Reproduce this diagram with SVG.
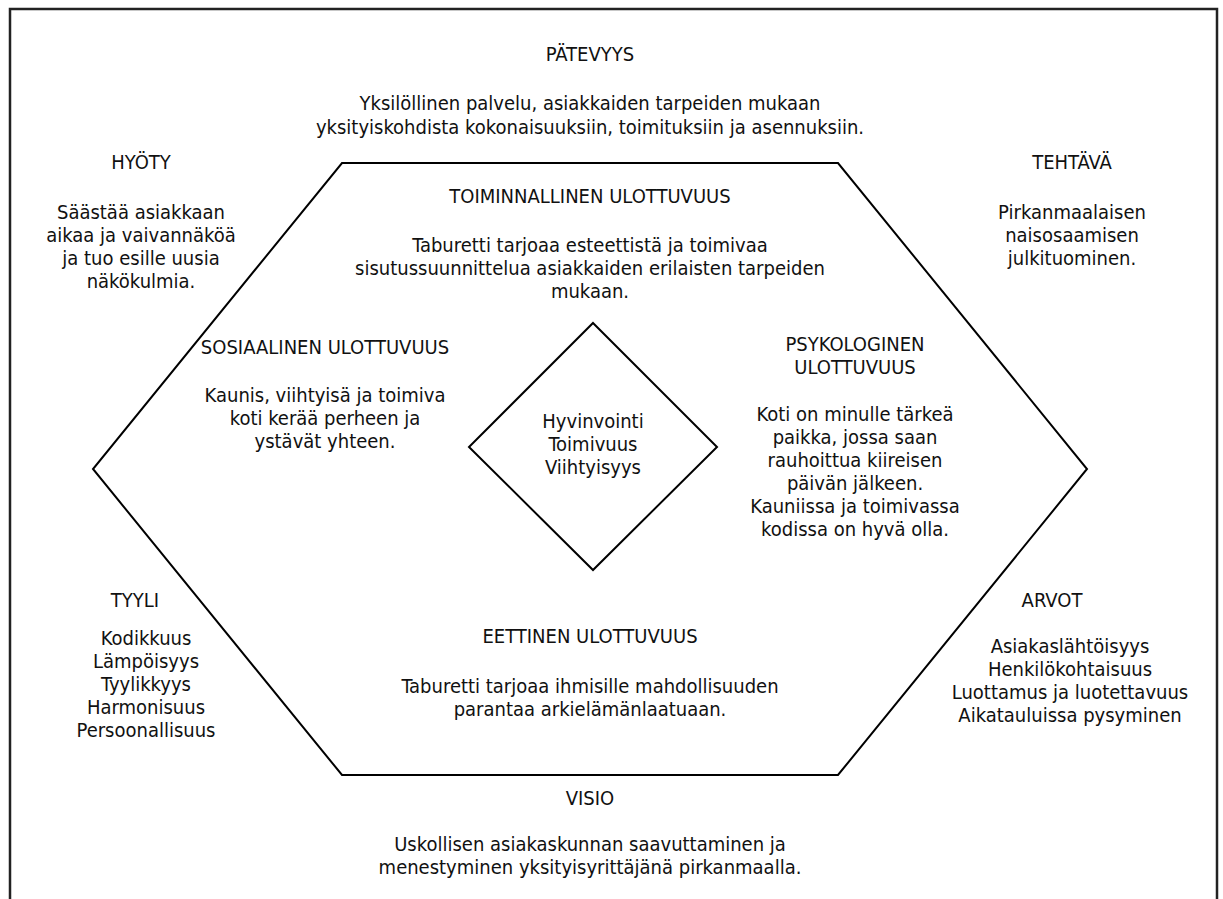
<svg xmlns="http://www.w3.org/2000/svg" width="1223" height="899" viewBox="0 0 1223 899">
<style>
text { font-family: "DejaVu Sans", "Liberation Sans", sans-serif; font-stretch: condensed; font-size: 20px; fill: #111; text-anchor: middle; }
.shape { fill: none; stroke: #000; stroke-width: 2; stroke-linejoin: miter; }
.frame { fill: none; stroke: #222; stroke-width: 2.5; }
</style>
<rect x="0" y="0" width="1223" height="899" fill="#fff"/>
<path class="frame" d="M10,900 V9 H1217 V900"/>
<g id="hexagon"><polygon class="shape" points="342,163 838,163 1087,469 838,775 342,775 93,469"/></g>
<g id="diamond"><polygon class="shape" points="593,323 717,447 593,570 469,447"/>
<text x="593" y="428">Hyvinvointi</text><text x="593" y="451">Toimivuus</text><text x="593" y="474">Viihtyisyys</text></g>
<g id="patevyys"><text x="590" y="61">PÄTEVYYS</text>
<text x="590" y="110">Yksilöllinen palvelu, asiakkaiden tarpeiden mukaan</text>
<text x="590" y="134">yksityiskohdista kokonaisuuksiin, toimituksiin ja asennuksiin.</text></g>
<g id="hyoty"><text x="141" y="169">HYÖTY</text>
<text x="141" y="219">Säästää asiakkaan</text><text x="141" y="242">aikaa ja vaivannäköä</text><text x="141" y="265">ja tuo esille uusia</text><text x="141" y="288">näkökulmia.</text></g>
<g id="tehtava"><text x="1072" y="169">TEHTÄVÄ</text>
<text x="1072" y="219">Pirkanmaalaisen</text><text x="1072" y="242">naisosaamisen</text><text x="1072" y="265">julkituominen.</text></g>
<g id="toiminnallinen"><text x="590" y="203">TOIMINNALLINEN ULOTTUVUUS</text>
<text x="590" y="252">Taburetti tarjoaa esteettistä ja toimivaa</text><text x="590" y="275">sisutussuunnittelua asiakkaiden erilaisten tarpeiden</text><text x="590" y="298">mukaan.</text></g>
<g id="psykologinen"><text x="855" y="351">PSYKOLOGINEN</text><text x="855" y="374">ULOTTUVUUS</text>
<text x="855" y="421">Koti on minulle tärkeä</text><text x="855" y="444">paikka, jossa saan</text><text x="855" y="467">rauhoittua kiireisen</text><text x="855" y="490">päivän jälkeen.</text><text x="855" y="513">Kauniissa ja toimivassa</text><text x="855" y="536">kodissa on hyvä olla.</text></g>
<g id="sosiaalinen"><text x="325" y="354">SOSIAALINEN ULOTTUVUUS</text>
<text x="325" y="402">Kaunis, viihtyisä ja toimiva</text><text x="325" y="425">koti kerää perheen ja</text><text x="325" y="448">ystävät yhteen.</text></g>
<g id="tyyli"><text x="135" y="607">TYYLI</text>
<text x="146" y="645">Kodikkuus</text><text x="146" y="668">Lämpöisyys</text><text x="146" y="691">Tyylikkyys</text><text x="146" y="714">Harmonisuus</text><text x="146" y="737">Persoonallisuus</text></g>
<g id="eettinen"><text x="590" y="643">EETTINEN ULOTTUVUUS</text>
<text x="590" y="693">Taburetti tarjoaa ihmisille mahdollisuuden</text><text x="590" y="716">parantaa arkielämänlaatuaan.</text></g>
<g id="arvot"><text x="1052" y="607">ARVOT</text>
<text x="1070" y="653">Asiakaslähtöisyys</text><text x="1070" y="676">Henkilökohtaisuus</text><text x="1070" y="699">Luottamus ja luotettavuus</text><text x="1070" y="722">Aikatauluissa pysyminen</text></g>
<g id="visio"><text x="590" y="805">VISIO</text>
<text x="590" y="851">Uskollisen asiakaskunnan saavuttaminen ja</text><text x="590" y="874">menestyminen yksityisyrittäjänä pirkanmaalla.</text></g>
</svg>
